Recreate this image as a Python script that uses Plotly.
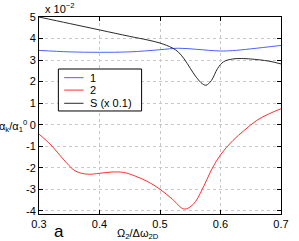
import plotly.graph_objects as go

# data
x1 = [0.30, 0.35, 0.40, 0.45, 0.50, 0.53, 0.56, 0.60, 0.62, 0.65, 0.70]
y1 = [3.45, 3.38, 3.36, 3.38, 3.48, 3.55, 3.50, 3.42, 3.44, 3.52, 3.68]

x2 = [0.30, 0.32, 0.34, 0.36, 0.38, 0.40, 0.42, 0.44, 0.46, 0.48, 0.50, 0.52,
      0.54, 0.555, 0.57, 0.585, 0.60, 0.62, 0.64, 0.66, 0.68, 0.70]
y2 = [-0.44, -0.95, -1.6, -2.15, -2.3, -2.26, -2.2, -2.22, -2.4, -2.65, -3.0, -3.45,
      -3.92, -3.7, -3.0, -2.1, -1.4, -0.75, -0.25, 0.2, 0.5, 0.74]

xs = [0.30, 0.35, 0.40, 0.45, 0.48, 0.50, 0.52, 0.53, 0.54, 0.55, 0.56, 0.57,
      0.576, 0.585, 0.595, 0.605, 0.62, 0.635, 0.65, 0.68, 0.70]
ys = [5.0, 4.7, 4.4, 4.1, 3.93, 3.79, 3.57, 3.38, 3.05, 2.62, 2.2, 1.9,
      1.83, 2.05, 2.6, 2.92, 3.05, 3.07, 3.05, 2.95, 2.82]

names = ["1", "2", "S (x 0.1)"]
colors = ["#4a63ff", "#ff3030", "#2a2a2a"]

xticks = [0.3, 0.4, 0.5, 0.6, 0.7]
yticks = [-4, -3, -2, -1, 0, 1, 2, 3, 4, 5]

fig = go.Figure()
for xx, yy, nm, col in zip([x1, x2, xs], [y1, y2, ys], names, colors):
    fig.add_trace(go.Scatter(x=xx, y=yy, mode="lines", name=nm, showlegend=False,
                             line=dict(color=col, width=1, shape="spline")))

axis_common = dict(showline=True, linecolor="black", linewidth=1, mirror="ticks",
                   ticks="inside", ticklen=4, tickcolor="black",
                   showgrid=True, gridcolor="#c8c8c8", griddash="dot", gridwidth=1,
                   zeroline=False, tickfont=dict(size=11, color="black",
                                                 family="Liberation Sans"))

fig.update_xaxes(range=[0.3, 0.7], tickvals=xticks,
                 ticktext=[f"{v:.1f}" for v in xticks], **axis_common)
fig.update_yaxes(range=[-4.15, 5.0], tickvals=yticks,
                 ticktext=[str(v) for v in yticks], **axis_common)

# manual legend box (matches the compact legend of the reference)
shapes = [dict(type="rect", xref="paper", yref="paper",
               x0=0.08, x1=0.424, y0=0.523, y1=0.736,
               line=dict(color="black", width=1), fillcolor="white", layer="above")]
annotations = []
leg_y = [0.692, 0.629, 0.562]
for ly, nm, col in zip(leg_y, names, colors):
    shapes.append(dict(type="line", xref="paper", yref="paper",
                       x0=0.104, x1=0.184, y0=ly, y1=ly,
                       line=dict(color=col, width=1), layer="above"))
    annotations.append(dict(text=nm, xref="paper", yref="paper", x=0.204, y=ly,
                            xanchor="left", yanchor="middle", showarrow=False,
                            font=dict(size=11)))

annotations += [
    dict(text="x 10<sup>−2</sup>", xref="paper", yref="paper",
         x=0.016, y=1.0, xanchor="left", yanchor="bottom",
         showarrow=False, font=dict(size=11)),
    dict(text="α<sub>k</sub>/α<sub>1</sub><sup>0</sup>", xref="paper", yref="paper",
         x=-0.04, y=0.445, xanchor="right", yanchor="middle",
         showarrow=False, font=dict(size=11)),
    dict(text="Ω<sub>2</sub>/Δω<sub>2D</sub>", xref="paper", yref="paper",
         x=0.41, y=-0.055, xanchor="center", yanchor="top",
         showarrow=False, font=dict(size=11)),
    dict(text="a", xref="paper", yref="paper",
         x=0.084, y=-0.088, xanchor="center", yanchor="middle",
         showarrow=False, font=dict(size=17)),
]

fig.update_layout(
    width=299, height=241,
    margin=dict(l=39, r=10, t=17, b=27),
    plot_bgcolor="white", paper_bgcolor="white",
    font=dict(family="Liberation Sans", size=11, color="black"),
    showlegend=False,
    shapes=shapes,
    annotations=annotations,
)

fig.write_html("out.html", config={"displayModeBar": False},
               post_script="document.body.style.margin='0px';")
